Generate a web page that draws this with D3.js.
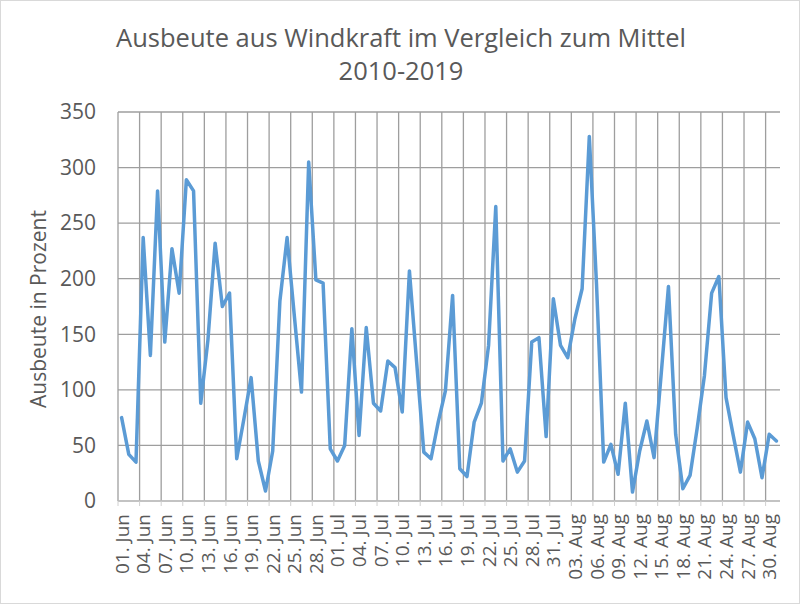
<!DOCTYPE html>
<html><head><meta charset="utf-8">
<script src="https://cdn.jsdelivr.net/npm/d3@7"></script>
<style>body{margin:0;background:#fff}</style>
</head><body>
<svg id="c" width="800" height="604"></svg>
<script>
const titleLines = ["Ausbeute aus Windkraft im Vergleich zum Mittel", "2010-2019"];
const yLabel = "Ausbeute in Prozent";
const months = [["Jun", 30], ["Jul", 31], ["Aug", 31]];
const yTicks = [0, 50, 100, 150, 200, 250, 300, 350];
const values = [75, 42, 35, 237, 131, 279, 143, 227, 187, 289,
  279, 88, 145, 232, 175, 187, 38, 74, 111, 36,
  9, 45, 180, 237, 167, 98, 305, 199, 196, 47,
  36, 50, 155, 59, 156, 88, 81, 126, 120, 80,
  207, 125, 44, 38, 71, 99, 185, 29, 22, 71,
  88, 140, 265, 36, 47, 26, 36, 143, 147, 58,
  182, 140, 129, 164, 191, 328, 195, 35, 51, 24,
  88, 8, 45, 72, 39, 115, 193, 60, 11, 23,
  66, 113, 187, 202, 93, 59, 26, 71, 56, 21,
  60, 54];

const categories = [];
months.forEach(([m, n]) => { for (let d = 1; d <= n; d++) categories.push(String(d).padStart(2, "0") + ". " + m); });

const svg = d3.select("#c");
const font = "'Open Sans', 'Noto Sans', sans-serif";
const L = 118, R = 780, T = 112, B = 501;

svg.append("rect").attr("x", 0.5).attr("y", 0.5).attr("width", 799).attr("height", 603)
  .attr("fill", "#fff").attr("stroke", "#d9d9d9");

const x = d3.scaleBand().domain(categories).range([L, R]);
const y = d3.scaleLinear().domain([0, 350]).range([B, T]);

// horizontal grid
svg.append("g").selectAll("line").data(yTicks).join("line")
  .attr("x1", L).attr("x2", R).attr("y1", d => y(d)).attr("y2", d => y(d))
  .attr("stroke", "#9e9e9e").attr("stroke-width", 1.3);
// vertical grid every 3 categories (band boundaries)
const vIdx = d3.range(0, categories.length, 3);
svg.append("g").selectAll("line").data(vIdx).join("line")
  .attr("x1", i => x(categories[i])).attr("x2", i => x(categories[i]))
  .attr("y1", T).attr("y2", B)
  .attr("stroke", "#9e9e9e").attr("stroke-width", 1.3);
// tick marks below axis
svg.append("g").selectAll("line").data(vIdx).join("line")
  .attr("x1", i => x(categories[i])).attr("x2", i => x(categories[i]))
  .attr("y1", B).attr("y2", B + 5)
  .attr("stroke", "#d0d0d0").attr("stroke-width", 1);
svg.append("line").attr("x1", L).attr("x2", R).attr("y1", B).attr("y2", B)
  .attr("stroke", "#d0d0d0").attr("stroke-width", 1);

// y tick labels
svg.append("g").selectAll("text").data(yTicks).join("text")
  .attr("x", 96).attr("y", d => y(d)).attr("dy", "0.35em")
  .attr("text-anchor", "end").attr("font-family", font).attr("font-size", 21)
  .attr("fill", "#595959").text(d => d);

// x labels
svg.append("g").selectAll("text").data(vIdx).join("text")
  .attr("transform", i => `translate(${x(categories[i]) + x.bandwidth() / 2 + 7},514) rotate(-90)`)
  .attr("text-anchor", "end").attr("font-family", font).attr("font-size", 19)
  .attr("fill", "#595959").text(i => categories[i]);

// line
const line = d3.line().x((d, i) => x(categories[i]) + x.bandwidth() / 2).y(d => y(d));
svg.append("path").datum(values).attr("d", line).attr("fill", "none")
  .attr("stroke", "#5b9bd5").attr("stroke-width", 3.5).attr("stroke-linejoin", "round").attr("stroke-linecap", "round");

// title
svg.append("g").selectAll("text").data(titleLines).join("text")
  .attr("x", 401).attr("y", (d, i) => 47 + i * 33).attr("text-anchor", "middle")
  .attr("font-family", font).attr("font-size", 25.5).attr("fill", "#595959").text(d => d);

// y axis label
svg.append("text").attr("transform", "translate(46,309) rotate(-90)")
  .attr("text-anchor", "middle").attr("font-family", font).attr("font-size", 21)
  .attr("fill", "#595959").text(yLabel);
</script>
</body></html>
